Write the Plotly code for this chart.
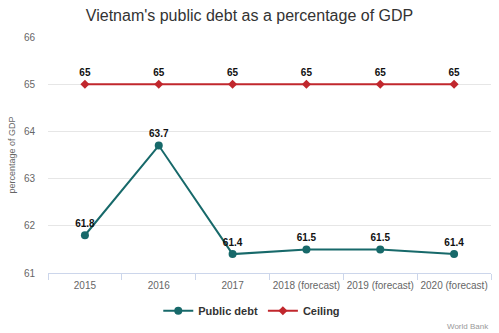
import plotly.graph_objects as go

categories = ["2015", "2016", "2017", "2018 (forecast)", "2019 (forecast)", "2020 (forecast)"]
public_debt = [61.8, 63.7, 61.4, 61.5, 61.5, 61.4]
ceiling = [65, 65, 65, 65, 65, 65]
y_ticks = [61, 62, 63, 64, 65, 66]

debt_color = "#17696a"
ceil_color = "#c1272d"
font_family = "Liberation Sans, Arial"

fig = go.Figure()
fig.add_trace(go.Scatter(
    x=categories, y=public_debt, name="<b>Public debt</b>", mode="lines+markers+text",
    line=dict(color=debt_color, width=2), marker=dict(size=8, color=debt_color, symbol="circle"),
    text=[str(v) for v in public_debt], textposition="top center",
    textfont=dict(family=font_family, size=10, color="#111"),
    texttemplate="<b>%{text}</b>",
))
fig.add_trace(go.Scatter(
    x=categories, y=ceiling, name="<b>Ceiling</b>", mode="lines+markers+text",
    line=dict(color=ceil_color, width=2), marker=dict(size=7, color=ceil_color, symbol="diamond"),
    text=[str(v) for v in ceiling], textposition="top center",
    textfont=dict(family=font_family, size=10, color="#111"),
    texttemplate="<b>%{text}</b>",
))

fig.update_layout(
    width=499, height=333,
    margin=dict(l=48, r=8, t=37, b=60),
    paper_bgcolor="white", plot_bgcolor="white",
    font=dict(family=font_family, color="#666"),
    title=dict(text="Vietnam's public debt as a percentage of GDP", x=0.5, xanchor="center",
               y=0.955, yanchor="middle", font=dict(size=16, color="#333")),
    showlegend=True,
    legend=dict(orientation="h", x=0.46, xanchor="center", y=-0.16, yanchor="middle",
                font=dict(size=11, color="#333", family=font_family), traceorder="normal"),
    annotations=[dict(text="World Bank", xref="paper", yref="paper", x=1.0, y=-0.225,
                      xanchor="right", yanchor="middle", showarrow=False,
                      font=dict(size=8, color="#999"))],
)

fig.update_xaxes(
    type="category", tickson="boundaries", ticks="outside", ticklen=6, tickcolor="#ccd6eb",
    showline=True, linecolor="#ccd6eb", linewidth=1, showgrid=False, tickangle=0,
    tickfont=dict(size=10, color="#666"), range=[-0.5, 5.5], ticklabelstandoff=3,
)
fig.update_yaxes(
    range=[61, 66], tickvals=y_ticks, showgrid=True, gridcolor="#e6e6e6", gridwidth=1,
    zeroline=False, tickfont=dict(size=10, color="#666"), ticks="", ticklabelstandoff=12,
    title=dict(text="percentage of GDP", font=dict(size=9, color="#666"), standoff=6),
)

fig.write_html("out.html")
